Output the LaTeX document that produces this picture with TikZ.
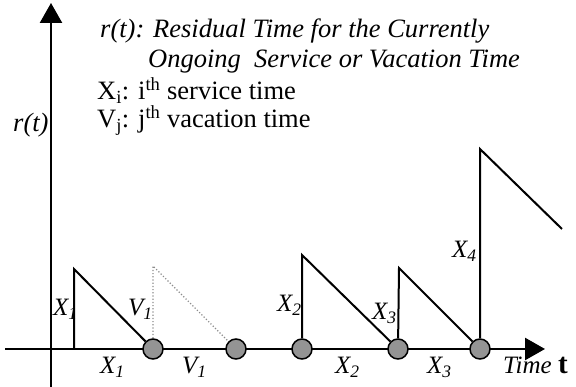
\documentclass[tikz,border=0pt]{standalone}
\usepackage{fontspec}
\setmainfont{Liberation Serif}
\usetikzlibrary{arrows.meta}
\pgfdeclarelayer{background}
\pgfsetlayers{background,main}
\tikzset{
  axisline/.style={line width=2.5pt,-{Triangle[length=20pt,width=22pt]}},
  sawline/.style={line width=2pt},
  dotline/.style={line width=1.2pt,dotted,black!45},
  event/.style={circle,draw=black,line width=1.5pt,fill=black!42,minimum size=20pt,inner sep=0pt},
  head/.style={inner sep=0pt,anchor=base west,font=\fontsize{26.5}{30}\selectfont},
  lab/.style={inner sep=0pt,anchor=base west,font=\fontsize{25}{28}\selectfont\itshape},
}
\begin{document}
\begin{tikzpicture}[x=1pt,y=1pt]
\useasboundingbox (0,0) rectangle (576,387);
% events on the time axis
\node[event] (c1) at (153,38) {};
\node[event] (c2) at (236,38) {};
\node[event] (c3) at (302,38) {};
\node[event] (c4) at (398,38) {};
\node[event] (c5) at (480,38) {};
% axes
\coordinate (xs) at (5,38);
\coordinate (xe) at (545,38);
\coordinate (ys) at (51,0);
\coordinate (ye) at (51,384);
\begin{pgfonlayer}{background}
\draw[axisline] (xs) -- (xe);
\draw[axisline] (ys) -- (ye);
\end{pgfonlayer}
% sawtooth
\coordinate (b1) at (74,38);
\coordinate (t1) at (74,118);
\coordinate (d1) at (153,121);
\coordinate (t2) at (302,132);
\coordinate (t3) at (399,119);
\coordinate (t4) at (480,238);
\coordinate (e4) at (562,158);
\draw[sawline] (b1) -- (t1) -- (c1);
\draw[dotline] (c1) -- (d1) -- (c2);
\draw[sawline] (c3) -- (t2) -- (c4);
\draw[sawline] (c4) -- (t3) -- (c5);
\draw[sawline] (c5) -- (t4) -- (e4);
% header texts
\node[head] (h1) at (100,349) {\itshape r(t): Residual Time for the Currently};
\node[head] (h2) at (148,319) {\itshape Ongoing\ \ Service or Vacation Time};
\node[head] (h3) at (97,287) {X\textsubscript{i}: i\textsuperscript{th} service time};
\node[head] (h4) at (97,259) {V\textsubscript{j}: j\textsuperscript{th} vacation time};
\node[head] (ry) at (13,255) {\itshape r(t)};
% labels
\node[lab] (lx1) at (53,71) {X\textsubscript{1}};
\node[lab] (lv1) at (128,71) {V\textsubscript{1}};
\node[lab] (lx2) at (277,75) {X\textsubscript{2}};
\node[lab] (lx3) at (372,67) {X\textsubscript{3}};
\node[lab] (lx4) at (452,129) {X\textsubscript{4}};
\node[lab] (bx1) at (100,13) {X\textsubscript{1}};
\node[lab] (bv1) at (182,13) {V\textsubscript{1}};
\node[lab] (bx2) at (335,13) {X\textsubscript{2}};
\node[lab] (bx3) at (427,13) {X\textsubscript{3}};
\node[lab] (tt) at (503,13) {Time {\upshape\bfseries\fontsize{29}{30}\selectfont t}};
\end{tikzpicture}
\end{document}
